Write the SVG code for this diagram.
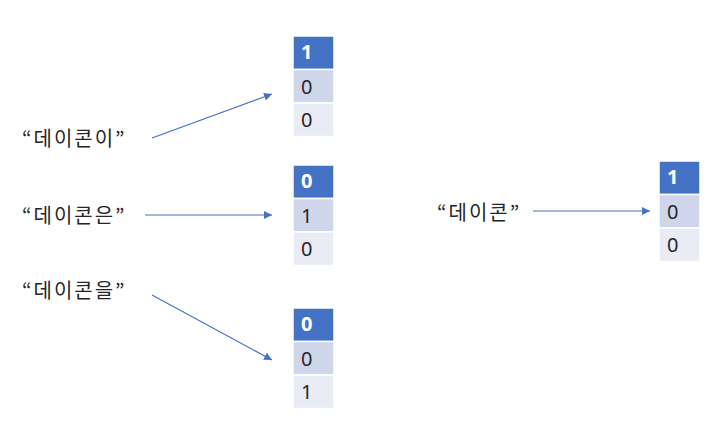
<svg xmlns="http://www.w3.org/2000/svg" width="725" height="425" viewBox="0 0 725 425">
<style>
.bg{fill:#ffffff}
.c1{fill:#4472C4;stroke:#ffffff;stroke-width:1.5}
.c2{fill:#CFD5EA;stroke:#ffffff;stroke-width:1.5}
.c3{fill:#E9EBF5;stroke:#ffffff;stroke-width:1.5}
.d{font-family:"Noto Sans","Noto Sans CJK KR",sans-serif;font-size:20px;fill:#262626}
.dw{font-family:"Noto Sans","Noto Sans CJK KR",sans-serif;font-size:20px;font-weight:bold;fill:#ffffff}
.lbl{font-family:"Noto Sans CJK KR","Noto Sans",sans-serif;font-size:20px;letter-spacing:2px;fill:#262626}
.conn{stroke:#4472C4;stroke-width:1.2;fill:none;marker-end:url(#ah)}
</style>
<defs>
<marker id="ah" viewBox="0 0 10 10" refX="10" refY="5" markerWidth="8" markerHeight="8" markerUnits="userSpaceOnUse" orient="auto">
<path d="M0,0 L10,5 L0,10 z" fill="#4472C4"/>
</marker>
</defs>
<rect class="bg" x="0" y="0" width="725" height="425"/>
<g id="vec1">
<rect class="c1" x="293" y="36" width="41" height="33.5"/>
<rect class="c2" x="293" y="69.5" width="41" height="33.5"/>
<rect class="c3" x="293" y="103" width="41" height="33.5"/>
<text class="dw" x="301" y="59">1</text>
<text class="d" x="301" y="94">0</text>
<text class="d" x="301" y="127">0</text>
</g>
<g id="vec2">
<rect class="c1" x="293" y="165" width="41" height="33.5"/>
<rect class="c2" x="293" y="198.5" width="41" height="33.5"/>
<rect class="c3" x="293" y="232" width="41" height="33.5"/>
<text class="dw" x="301" y="188">0</text>
<text class="d" x="301" y="223">1</text>
<text class="d" x="301" y="256">0</text>
</g>
<g id="vec3">
<rect class="c1" x="293" y="308" width="41" height="33.5"/>
<rect class="c2" x="293" y="341.5" width="41" height="33.5"/>
<rect class="c3" x="293" y="375" width="41" height="33.5"/>
<text class="dw" x="301" y="331">0</text>
<text class="d" x="301" y="366">0</text>
<text class="d" x="301" y="399">1</text>
</g>
<g id="vec4">
<rect class="c1" x="659" y="161" width="41" height="33.5"/>
<rect class="c2" x="659" y="194.5" width="41" height="33.5"/>
<rect class="c3" x="659" y="228" width="41" height="33.5"/>
<text class="dw" x="667" y="184">1</text>
<text class="d" x="667" y="219">0</text>
<text class="d" x="667" y="252">0</text>
</g>
<g id="label1"><text class="lbl" x="22" y="146">“데이콘이”</text></g>
<g id="label2"><text class="lbl" x="22" y="223">“데이콘은”</text></g>
<g id="label3"><text class="lbl" x="22" y="298">“데이콘을”</text></g>
<g id="label4"><text class="lbl" x="437" y="220">“데이콘”</text></g>
<g id="connectors">
<line class="conn" x1="152" y1="138" x2="272" y2="94"/>
<line class="conn" x1="145" y1="215" x2="272" y2="215"/>
<line class="conn" x1="152" y1="295" x2="272" y2="360"/>
<line class="conn" x1="533" y1="211" x2="650" y2="211"/>
</g>
</svg>
